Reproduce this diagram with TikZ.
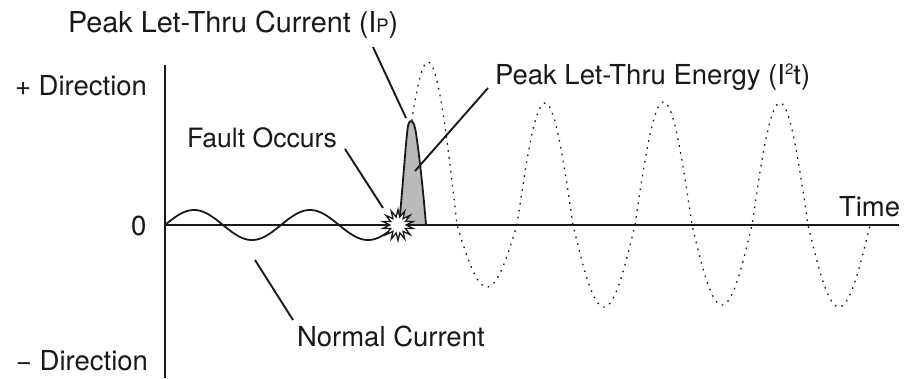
\documentclass[tikz,border=0pt]{standalone}
\usepackage{fontspec}
\setmainfont{TeX Gyre Heros}
\usetikzlibrary{shapes.geometric}
\tikzset{
  lbl/.style={anchor=base west, inner sep=0pt, outer sep=0pt, font=\fontsize{27.5}{30}\selectfont, text=black!90},
  biglbl/.style={lbl, font=\fontsize{28.8}{32}\selectfont},
  smalllbl/.style={lbl, font=\fontsize{26.6}{30}\selectfont},
  axisline/.style={line width=1.9pt, black!90},
  leader/.style={line width=1.9pt, black!90},
  wave/.style={line width=1.8pt, black!90},
  dotwave/.style={line width=1.3pt, black!90, dash pattern=on 1.6pt off 5.4pt},
  peakfill/.style={fill=black!27, draw=black!90, line width=1.8pt, line join=round},
  burst/.style={star, star points=14, star point ratio=1.9, minimum size=31pt, inner sep=0pt, fill=white, draw=black!90, line width=1.3pt}
}
\begin{document}
\begin{tikzpicture}[x=1pt,y=-1pt]
\useasboundingbox (0,0) rectangle (910,378);

% axes
\coordinate (vtop) at (165,65);
\coordinate (vbot) at (165,378);
\coordinate (origin) at (165,225);
\coordinate (hend) at (899,225);
\draw[axisline] (vtop) -- (vbot);
\draw[axisline] (origin) -- (hend);

% prospective (dotted) current
\draw[dotwave]
  plot[domain=399:457, samples=40] (\x,{225-163*sin(3.1034*(\x-399))})
  -- plot[domain=457:517, samples=40] (\x,{225+62*sin(3.0*(\x-457))})
  -- plot[domain=517:573, samples=40] (\x,{225-122*sin(3.2143*(\x-517))})
  -- plot[domain=573:635, samples=40] (\x,{225+82*sin(2.9032*(\x-573))})
  -- plot[domain=635:692, samples=40] (\x,{225-123*sin(3.1579*(\x-635))})
  -- plot[domain=692:752, samples=40] (\x,{225+80*sin(3.0*(\x-692))})
  -- plot[domain=752:808, samples=40] (\x,{225-122*sin(3.2143*(\x-752))})
  -- plot[domain=808:870, samples=40] (\x,{225+82*sin(2.9032*(\x-808))});

% normal current
\draw[wave] plot[domain=165:397, samples=120] (\x,{225-15*sin(3.1034*(\x-165))});

% let-through peak
\draw[peakfill] (399,225) .. controls (403,185) and (406,138) .. (408,126)
  .. controls (410,117) and (414,120) .. (416,133)
  .. controls (420,160) and (424,200) .. (426,225) -- cycle;

% fault burst
\node[burst] (fault) at (398,225) {};

% labels
\node[biglbl] (ip)  at (68,32)   {Peak Let-Thru Current (I{\fontsize{18.5}{18.5}\selectfont P})};
\node[lbl] (plus)   at (15,95)   {+ Direction};
\node[smalllbl] (faultl) at (187,147) {Fault Occurs};
\node[lbl] (zero)   at (131,235) {0};
\node[lbl] (energy) at (495,84)  {Peak Let-Thru Energy (I\raisebox{0.36em}{\fontsize{15}{15}\selectfont 2}t)};
\node[lbl] (time)   at (839,216) {Time};
\node[lbl] (normal) at (297,346) {Normal Current};
\node[lbl] (minus)  at (16,370)  {\char"2212\ Direction};

% leaders
\coordinate (ipa) at (373,47);   \coordinate (ipb) at (406,118);
\coordinate (ena) at (488,88);   \coordinate (enb) at (415,171);
\coordinate (fa)  at (345,149);  \coordinate (fb)  at (383,208);
\coordinate (na)  at (255,260);  \coordinate (nb)  at (293,320);
\draw[leader] (ipa) -- (ipb);
\draw[leader] (ena) -- (enb);
\draw[leader] (fa) -- (fb);
\draw[leader] (na) -- (nb);
\end{tikzpicture}
\end{document}
